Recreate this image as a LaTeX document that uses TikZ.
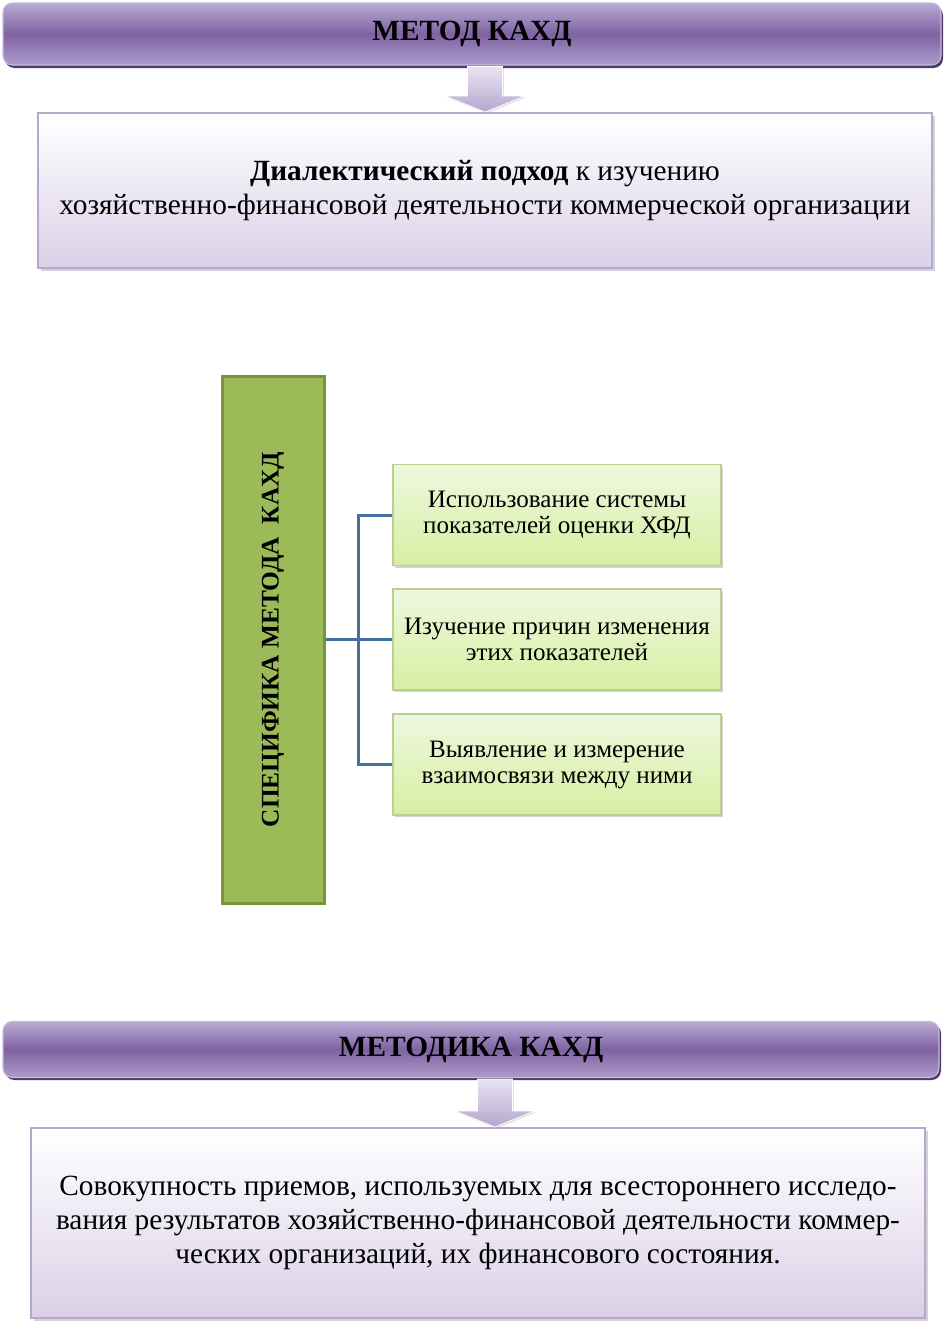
\documentclass[tikz,border=0pt]{standalone}
\usepackage{fontspec}
\setmainfont{Liberation Serif}
\usetikzlibrary{shadows,calc}
\definecolor{purpDark}{HTML}{4E3C68}
\definecolor{purpTop}{HTML}{B9ABD4}
\definecolor{purpMid}{HTML}{7F62A2}
\definecolor{purpBot}{HTML}{AE9CCB}
\definecolor{purpEdge}{HTML}{C6BADD}
\definecolor{lavBorder}{HTML}{B7A7CF}
\definecolor{lavBot}{HTML}{DAD1E8}
\definecolor{arrowTop}{HTML}{E9E4F2}
\definecolor{arrowBot}{HTML}{B5A6CF}
\definecolor{specFill}{HTML}{9BBB59}
\definecolor{specBorder}{HTML}{77933C}
\definecolor{lgTop}{HTML}{EEF7DE}
\definecolor{lgBot}{HTML}{D6F0A2}
\definecolor{lgBorder}{HTML}{B9D08E}
\definecolor{connBlue}{HTML}{41709F}
\tikzset{
  banner/.style={rounded corners=7pt, draw=purpEdge, line width=0.8pt,
    top color=purpTop, bottom color=purpBot, middle color=purpMid,
    inner sep=0pt, align=center,
    font=\bfseries\fontsize{22}{26}\selectfont},
  bannershadow/.style={rounded corners=7pt, fill=purpDark},
  lavbox/.style={draw=lavBorder, line width=1.5pt, top color=white, bottom color=lavBot,
    inner sep=0pt, align=center,
    drop shadow={shadow xshift=2pt, shadow yshift=-2pt, opacity=0.35, fill=gray}},
  specbox/.style={draw=specBorder, line width=2.25pt, fill=specFill, inner sep=0pt},
  greenbox/.style={draw=lgBorder, line width=1pt, top color=lgTop, bottom color=lgBot,
    inner sep=0pt, align=center, minimum width=246pt, minimum height=75.75pt,
    font=\fontsize{18.8}{19.5}\selectfont,
    drop shadow={shadow xshift=1.5pt, shadow yshift=-1.5pt, opacity=0.35, fill=gray}},
  blockarrow/.style={draw=white, line width=0.6pt, top color=arrowTop, bottom color=arrowBot},
  conn/.style={draw=connBlue, line width=2.25pt}
}
\begin{document}
\begin{tikzpicture}[x=0.75pt,y=-0.75pt]
\useasboundingbox (0,0) rectangle (944,1321);
% top banner
\fill[bannershadow] (5,6) rectangle (943,68);
\node[banner, minimum width=703.5pt, minimum height=46.5pt] (t) at (472,34) {МЕТОД КАХД};
% box 1
\node[lavbox, minimum width=670.5pt, minimum height=116.25pt,
  font=\fontsize{22}{26}\selectfont] (b1) at (485,190.5)
  {\textbf{Диалектический подход} к изучению\\хозяйственно-финансовой деятельности коммерческой организации};
% arrow 1
\coordinate (a1) at (t.south -| b1.north);
\path[blockarrow, drop shadow={shadow xshift=1pt, shadow yshift=-1pt, opacity=0.25, fill=gray}]
  ($(a1)+(-17.5,1)$) -- ($(b1.north)+(-17.5,-16)$) -- ($(b1.north)+(-40,-16)$) -- (b1.north)
  -- ($(b1.north)+(40,-16)$) -- ($(b1.north)+(17.5,-16)$) -- ($(a1)+(17.5,1)$) -- cycle;
% specification
\node[specbox, minimum width=76.5pt, minimum height=395.25pt] (spec) at (273,639.5) {};
\node[rotate=90, font=\bfseries\fontsize{19}{22}\selectfont] (spectext) at (spec.center) {СПЕЦИФИКА МЕТОДА\ \ КАХД};
\node[greenbox] (s1) at (557,515) {Использование системы\\показателей оценки ХФД};
\node[greenbox] (s2) at (557,639.5) {Изучение причин изменения\\этих показателей};
\node[greenbox] (s3) at (557,764.5) {Выявление и измерение\\взаимосвязи между ними};
\coordinate (bus) at (358,639.5);
\draw[conn] (spec.east) -- (s2.west);
\draw[conn, line join=miter] (s1.west) -- (s1.west -| bus) -- (s3.west -| bus) -- (s3.west);
% bottom banner
\fill[bannershadow] (5,1024) rectangle (941,1080);
\node[banner, minimum width=702pt, minimum height=42pt] (t2) at (471,1049.5) {МЕТОДИКА КАХД};
% box 2
\node[lavbox, minimum width=670.5pt, minimum height=142.5pt,
  font=\fontsize{22}{25.5}\selectfont] (b2) at (478,1223)
  {Совокупность приемов, используемых для всестороннего исследо-\\вания результатов хозяйственно-финансовой деятельности коммер-\\ческих организаций, их финансового состояния.};
% arrow 2
\coordinate (a2) at (495,1078);
\coordinate (tip2) at (a2 |- b2.north);
\path[blockarrow, drop shadow={shadow xshift=1pt, shadow yshift=-1pt, opacity=0.25, fill=gray}]
  ($(a2)+(-17.5,1)$) -- ($(tip2)+(-17.5,-16)$) -- ($(tip2)+(-40,-16)$) -- (tip2)
  -- ($(tip2)+(40,-16)$) -- ($(tip2)+(17.5,-16)$) -- ($(a2)+(17.5,1)$) -- cycle;
\end{tikzpicture}
\end{document}
